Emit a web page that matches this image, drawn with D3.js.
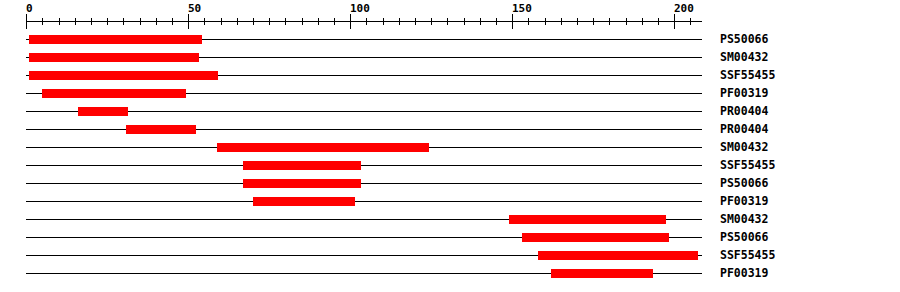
<!DOCTYPE html>
<html>
<head>
<meta charset="utf-8">
<script src="https://cdn.jsdelivr.net/npm/d3@7"></script>
<style>
  body { margin: 0; background: #fff; }
  svg { display: block; }
</style>
</head>
<body>
<div id="chart"></div>
<script>
const width = 900;
const height = 292;

// domain hits, top to bottom
const names = ["PS50066", "SM00432", "SSF55455", "PF00319", "PR00404", "PR00404", "SM00432",
  "SSF55455", "PS50066", "PF00319", "SM00432", "PS50066", "SSF55455", "PF00319"];
const starts = [1, 1, 1, 5, 16, 31, 59, 67, 67, 70, 149, 153, 158, 162];
const ends = [54, 53, 59, 49, 31, 52, 124, 103, 103, 101, 197, 198, 207, 193];
const seqLength = 208;
const majorTicks = [0, 50, 100, 150, 200];

const x = d3.scaleLinear().domain([0, seqLength]).range([26.3, 700.2]);
const rowY = (i) => 39 + 18 * i;
const lineEnd = x(seqLength) + 1.5;

const svg = d3
  .select("#chart")
  .append("svg")
  .attr("width", width)
  .attr("height", height)
  .attr("shape-rendering", "crispEdges");

// ruler on top
const axis = svg
  .append("g")
  .attr("transform", "translate(0,21.5)")
  .call(d3.axisBottom(x).tickValues(d3.range(0, seqLength + 1, 5)).tickFormat(""));

axis.select(".domain").attr("d", `M${x(0)},0H${lineEnd}`).attr("stroke", "#000");
axis
  .selectAll(".tick line")
  .attr("stroke", "#000")
  .attr("y1", (d) => (d % 50 === 0 ? -8 : -4))
  .attr("y2", (d) => (d % 50 === 0 ? 7 : 3));

svg
  .append("g")
  .selectAll("text")
  .data(majorTicks)
  .enter()
  .append("text")
  .attr("x", (d) => Math.round(x(d)))
  .attr("y", 12)
  .attr("font-family", "DejaVu Sans Mono, monospace")
  .attr("font-weight", "bold")
  .attr("font-size", 11)
  .text((d) => d);

const rows = svg
  .append("g")
  .selectAll("g")
  .data(names)
  .enter()
  .append("g");

rows
  .append("line")
  .attr("x1", x(0))
  .attr("x2", lineEnd)
  .attr("y1", (d, i) => rowY(i) + 0.5)
  .attr("y2", (d, i) => rowY(i) + 0.5)
  .attr("stroke", "#000");

rows
  .append("rect")
  .attr("x", (d, i) => x(starts[i]) - 0.5)
  .attr("y", (d, i) => rowY(i) - 4)
  .attr("width", (d, i) => x(ends[i]) - x(starts[i]) + 1.5)
  .attr("height", 9)
  .attr("fill", "#ff0000");

rows
  .append("text")
  .attr("x", 720)
  .attr("y", (d, i) => rowY(i) + 4)
  .attr("font-family", "DejaVu Sans Mono, monospace")
  .attr("font-weight", "bold")
  .attr("font-size", 11.5)
  .text((d) => d);
</script>
</body>
</html>
